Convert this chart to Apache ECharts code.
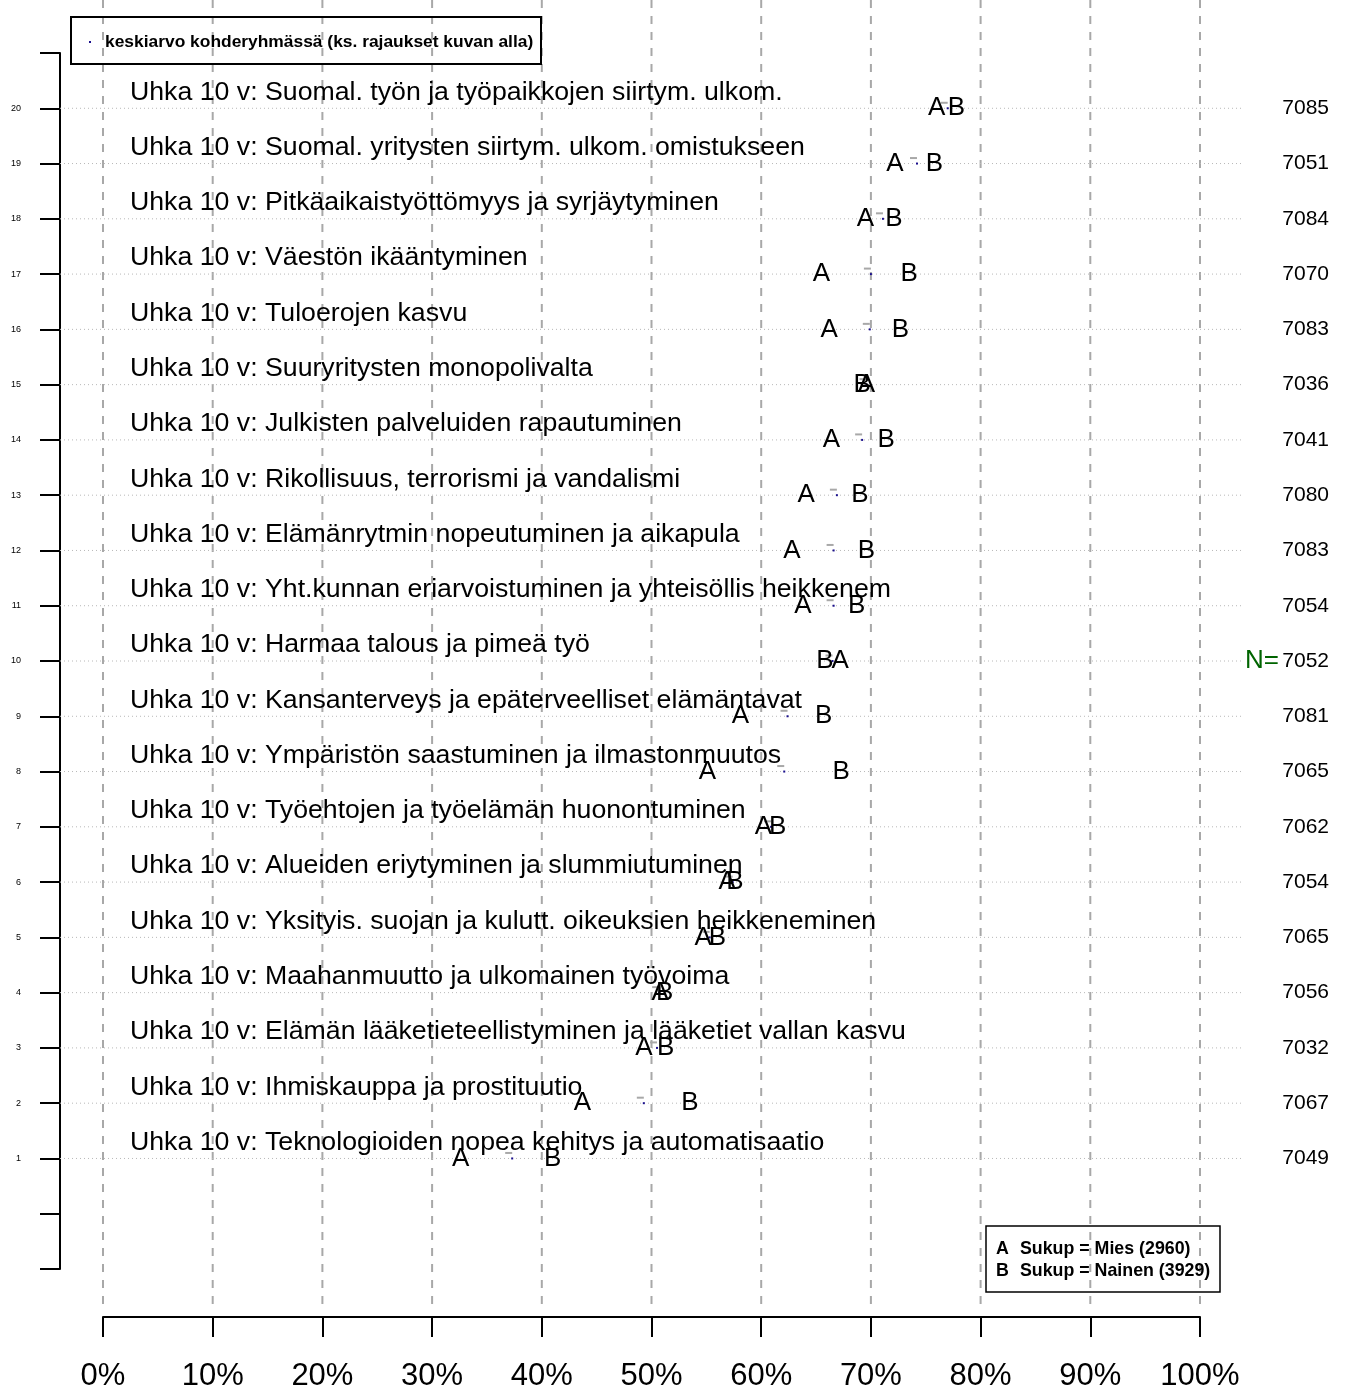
<!DOCTYPE html>
<html><head><meta charset="utf-8">
<script src="https://cdn.jsdelivr.net/npm/echarts@6/dist/echarts.min.js"></script>
<style>html,body{margin:0;padding:0;background:#fff}#c{width:1348px;height:1392px}</style>
</head><body><div id="c"></div>
<script>
// rows listed top to bottom
const rows = [20,19,18,17,16,15,14,13,12,11,10,9,8,7,6,5,4,3,2,1];
const categories = [
  'Uhka 10 v: Suomal. työn ja työpaikkojen siirtym. ulkom.',
  'Uhka 10 v: Suomal. yritysten siirtym. ulkom. omistukseen',
  'Uhka 10 v: Pitkäaikaistyöttömyys ja syrjäytyminen',
  'Uhka 10 v: Väestön ikääntyminen',
  'Uhka 10 v: Tuloerojen kasvu',
  'Uhka 10 v: Suuryritysten monopolivalta',
  'Uhka 10 v: Julkisten palveluiden rapautuminen',
  'Uhka 10 v: Rikollisuus, terrorismi ja vandalismi',
  'Uhka 10 v: Elämänrytmin nopeutuminen ja aikapula',
  'Uhka 10 v: Yht.kunnan eriarvoistuminen ja yhteisöllis heikkenem',
  'Uhka 10 v: Harmaa talous ja pimeä työ',
  'Uhka 10 v: Kansanterveys ja epäterveelliset elämäntavat',
  'Uhka 10 v: Ympäristön saastuminen ja ilmastonmuutos',
  'Uhka 10 v: Työehtojen ja työelämän huonontuminen',
  'Uhka 10 v: Alueiden eriytyminen ja slummiutuminen',
  'Uhka 10 v: Yksityis. suojan ja kulutt. oikeuksien heikkeneminen',
  'Uhka 10 v: Maahanmuutto ja ulkomainen työvoima',
  'Uhka 10 v: Elämän lääketieteellistyminen ja lääketiet vallan kasvu',
  'Uhka 10 v: Ihmiskauppa ja prostituutio',
  'Uhka 10 v: Teknologioiden nopea kehitys ja automatisaatio'
];
const valuesA = [76.0,72.2,69.5,65.5,66.2,69.6,66.4,64.1,62.8,63.8,67.2,58.1,55.1,60.2,56.9,54.7,50.8,49.3,43.7,32.6];
const valuesB = [77.8,75.8,72.1,73.5,72.7,69.2,71.4,69.0,69.6,68.7,65.8,65.7,67.3,61.5,57.6,56.0,51.2,51.3,53.5,41.0];
const means   = [77.0,74.2,71.1,70.0,69.9,69.6,69.2,66.9,66.6,66.6,66.5,62.4,62.1,60.9,57.4,55.3,50.7,50.5,49.3,37.3];
const nValues = [7085,7051,7084,7070,7083,7036,7041,7080,7083,7054,7052,7081,7065,7062,7054,7065,7056,7032,7067,7049];
const xTicks = [0,10,20,30,40,50,60,70,80,90,100];
const groupLetters = ['A','B'];
const groupNames = ['Sukup = Mies (2960)','Sukup = Nainen (3929)'];
const legendTitle = 'keskiarvo kohderyhmässä (ks. rajaukset kuvan alla)';
const nPrefix = 'N=';
const nPrefixRow = 10;

const FF = '"Liberation Sans", Arial, Helvetica, sans-serif';
const chart = echarts.init(document.getElementById('c'), null, {renderer:'canvas'});

function txt(text, x, y, size, color, align, weight) {
  return {type:'text', style:{text:text, x:x, y:y, fill:color, font:(weight||'normal')+' '+size+'px '+FF,
    align:align, verticalAlign:'middle', textAlign:align, textVerticalAlign:'middle'}};
}

const option = {
  animation:false,
  backgroundColor:'#fff',
  grid:{left:103, right:148, top:53, bottom:116},
  xAxis:{type:'value', min:0, max:100, interval:10, offset:48,
    axisLine:{show:true, onZero:false, lineStyle:{color:'#000', width:2}},
    axisTick:{show:true, length:20, lineStyle:{color:'#000', width:2}},
    axisLabel:{formatter:'{value}%', fontSize:31, color:'#000', margin:44, fontFamily:FF},
    splitLine:{show:false}},
  yAxis:{type:'value', min:-1, max:21, interval:1, offset:43,
    axisLine:{show:true, onZero:false, lineStyle:{color:'#000', width:2}},
    axisTick:{show:true, length:20, lineStyle:{color:'#000', width:2}},
    axisLabel:{formatter:function(v){return (v>=1&&v<=20)?String(v):'';}, fontSize:9, color:'#000', margin:39, fontFamily:FF},
    splitLine:{show:false}},
  series:[
    {type:'custom', clip:false, silent:true, z:1,
      data:xTicks.map(v=>[v,21]), encode:{x:0,y:1},
      renderItem:function(params, api){
        const p = api.coord([api.value(0), 21]);
        const pb = api.coord([api.value(0), -1]);
        return {type:'line', shape:{x1:p[0], y1:p[1]-53, x2:p[0], y2:pb[1]+40},
          style:{stroke:'#a8a8a8', lineWidth:2, lineDash:[8,8]}};
      }},
    {type:'custom', clip:false, silent:true, z:1,
      data:rows.map(r=>[0,r]), encode:{x:0,y:1},
      renderItem:function(params, api){
        const p0 = api.coord([0, api.value(1)]);
        const p1 = api.coord([100, api.value(1)]);
        return {type:'line', shape:{x1:p0[0]-43, y1:p0[1], x2:p1[0]+42, y2:p1[1]},
          style:{stroke:'#b8b8b8', lineWidth:1, lineDash:[1,3]}};
      }},
    {type:'custom', clip:false, silent:true, z:3,
      data:rows.map((r,i)=>[0,r,i]), encode:{x:0,y:1},
      renderItem:function(params, api){
        const p = api.coord([0, api.value(1)]);
        return txt(categories[api.value(2)], p[0]+27, p[1]-16, 26.7, '#000', 'left');
      }},
    {type:'custom', clip:false, silent:true, z:3,
      data:rows.map((r,i)=>[100,r,i]), encode:{x:0,y:1},
      renderItem:function(params, api){
        const p = api.coord([100, api.value(1)]);
        const i = api.value(2);
        const children = [txt(String(nValues[i]), p[0]+129, p[1], 21, '#000', 'right')];
        if (rows[i] === nPrefixRow) children.push(txt(nPrefix, p[0]+79, p[1], 26, '#006400', 'right'));
        return {type:'group', children:children};
      }},
    {type:'scatter', name:'dash', silent:true, z:4, symbol:'rect', symbolSize:[7,2], symbolOffset:[-3.5,-5.5],
      itemStyle:{color:'#a8a8a8', opacity:1}, data:means.map((m,i)=>[m, rows[i]])},
    {type:'scatter', name:legendTitle, silent:true, z:5, symbol:'rect', symbolSize:[2,2],
      itemStyle:{color:'#1a0f8c', opacity:1}, data:means.map((m,i)=>[m, rows[i]])},
    {type:'scatter', name:groupLetters[0], silent:true, z:6, symbolSize:1, itemStyle:{color:'rgba(0,0,0,0)', opacity:1},
      label:{show:true, position:'inside', formatter:groupLetters[0], fontSize:26, color:'#000', opacity:1, fontFamily:FF},
      data:valuesA.map((v,i)=>[v, rows[i]])},
    {type:'scatter', name:groupLetters[1], silent:true, z:6, symbolSize:1, itemStyle:{color:'rgba(0,0,0,0)', opacity:1},
      label:{show:true, position:'inside', formatter:groupLetters[1], fontSize:26, color:'#000', opacity:1, fontFamily:FF},
      data:valuesB.map((v,i)=>[v, rows[i]])}
  ],
  graphic:[
    {type:'rect', z:10, shape:{x:71, y:17, width:470, height:47}, style:{stroke:'#000', lineWidth:2, fill:'none'}},
    {type:'rect', z:10, shape:{x:89, y:41, width:2, height:2}, style:{fill:'#1a0f8c'}},
    {type:'text', z:10, style:{text:legendTitle, x:105, y:42, verticalAlign:'middle', font:'bold 17.4px '+FF, fill:'#000'}},
    {type:'rect', z:10, shape:{x:986, y:1226, width:234, height:66}, style:{stroke:'#000', lineWidth:1.5, fill:'none'}},
    {type:'text', z:10, style:{text:groupLetters[0], x:996, y:1249, verticalAlign:'middle', font:'bold 17.8px '+FF, fill:'#000'}},
    {type:'text', z:10, style:{text:groupNames[0], x:1020, y:1249, verticalAlign:'middle', font:'bold 17.8px '+FF, fill:'#000'}},
    {type:'text', z:10, style:{text:groupLetters[1], x:996, y:1271, verticalAlign:'middle', font:'bold 17.8px '+FF, fill:'#000'}},
    {type:'text', z:10, style:{text:groupNames[1], x:1020, y:1271, verticalAlign:'middle', font:'bold 17.8px '+FF, fill:'#000'}}
  ]
};
chart.setOption(option);
</script></body></html>
